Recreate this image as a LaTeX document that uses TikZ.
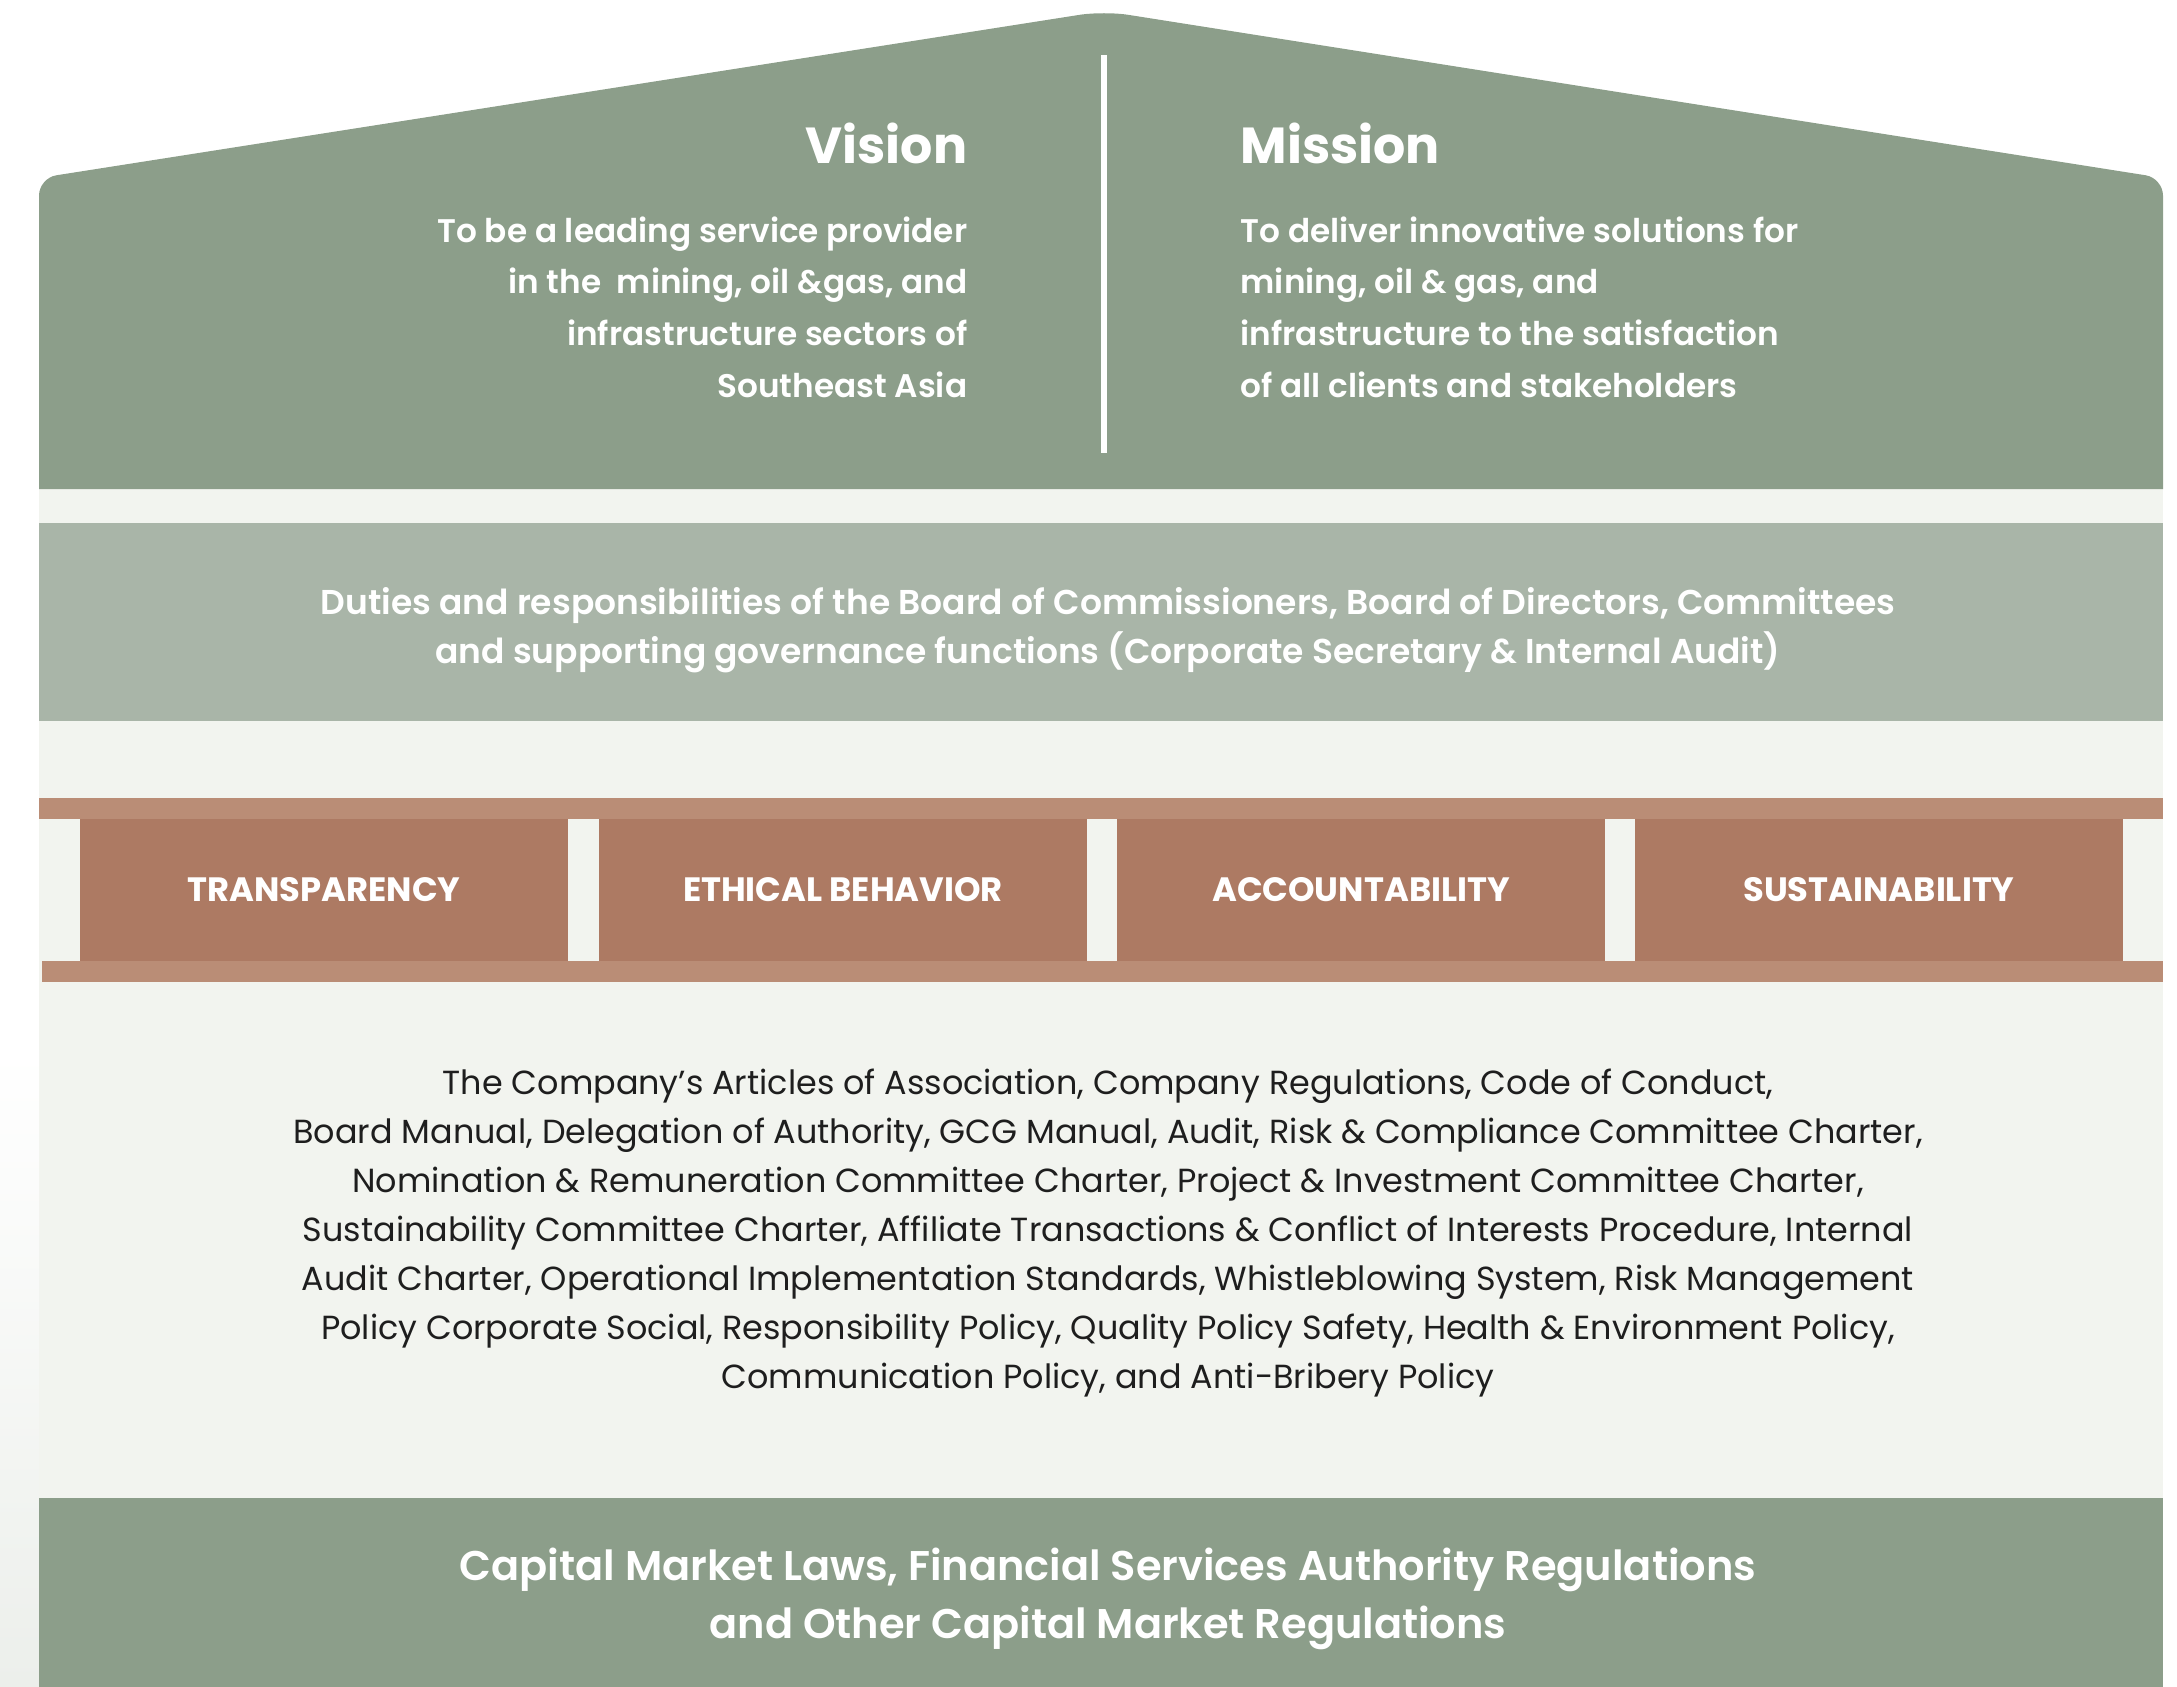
\documentclass[tikz,border=0pt]{standalone}
\usepackage{fontspec}
\setmainfont{Poppins}
\newfontfamily\semib{Poppins SemiBold}
\usetikzlibrary{positioning}
\definecolor{xRoof}{RGB}{140,158,138}
\definecolor{xDuties}{RGB}{169,181,168}
\definecolor{xBeam}{RGB}{186,141,118}
\definecolor{xPillar}{RGB}{173,122,99}
\definecolor{xFloor}{RGB}{242,244,239}
\definecolor{xShadow}{RGB}{236,239,235}
\definecolor{xText}{RGB}{30,30,30}

\tikzset{
  white text/.style={text=white, inner sep=0pt},
  pillarbox/.style={fill=xPillar, minimum width=4.87cm, minimum height=1.42cm,
    inner sep=0pt, text=white, font=\bfseries\fontsize{9.6}{11}\selectfont},
}

\begin{document}
\begin{tikzpicture}[x=0.01cm,y=-0.01cm]
    \useasboundingbox (0,0) rectangle (2177,1687);
    % light floor behind the house
    \fill[xFloor] (39,489) rectangle (2163,1687);
    \shade[top color=white, bottom color=xShadow] (0,1050) rectangle (39,1687);

    % roof with vision and mission
    \fill[xRoof] (39,489) [rounded corners=5] -- (39,178) [rounded corners=7] -- (1104,11) [rounded corners=5] -- (2163,178) [sharp corners] -- (2163,489) -- cycle;
    \fill[xRoof] (39,400) rectangle (2163,489);
    \fill[white] (1101,55) rectangle (1107,453);

    \node[white text, anchor=east, font=\bfseries\fontsize{14.4}{18}\selectfont] (vision) at (968,143) {Vision};
    \node[white text, anchor=west, font=\bfseries\fontsize{14.4}{18}\selectfont] (mission) at (1240,143) {Mission};
    \node[white text, anchor=east, align=right, font=\semib\fontsize{9.3}{14.7}\selectfont] (visiontext) at (968,307)
      {To be a leading service provider\\in the \ mining, oil \&gas, and\\infrastructure sectors of\\Southeast Asia};
    \node[white text, anchor=west, align=left, font=\semib\fontsize{9.3}{14.7}\selectfont] (missiontext) at (1240,307)
      {To deliver innovative solutions for\\mining, oil \& gas, and\\infrastructure to the satisfaction\\of all clients and stakeholders};

    % duties band
    \fill[xDuties] (39,523) rectangle (2163,721);
    \node[white text, align=center, font=\semib\fontsize{9.8}{13.8}\selectfont] (duties) at (1108,630)
      {Duties and responsibilities of the Board of Commissioners, Board of Directors, Committees\\and supporting governance functions (Corporate Secretary \& Internal Audit)};

    % beams and pillars
    \fill[xBeam] (39,798) rectangle (2163,819);
    \fill[xBeam] (42,961) rectangle (2163,982);
    \foreach \px/\lbl [count=\i] in {324/TRANSPARENCY, 843/ETHICAL BEHAVIOR, 1361/ACCOUNTABILITY, 1879/SUSTAINABILITY} {
      \node[pillarbox] (pillar\i) at (\px,890) {\lbl};
    }

    % policies
    \node[text=xText, inner sep=0pt, align=center, font=\fontsize{9.5}{13.9}\selectfont] (policies) at (1108,1233)
      {The Company’s Articles of Association, Company Regulations, Code of Conduct,\\
       Board Manual, Delegation of Authority, GCG Manual, Audit, Risk \& Compliance Committee Charter,\\
       Nomination \& Remuneration Committee Charter, Project \& Investment Committee Charter,\\
       Sustainability Committee Charter, Affiliate Transactions \& Conflict of Interests Procedure, Internal\\
       Audit Charter, Operational Implementation Standards, Whistleblowing System, Risk Management\\
       Policy Corporate Social, Responsibility Policy, Quality Policy Safety, Health \& Environment Policy,\\
       Communication Policy, and Anti-Bribery Policy};

    % foundation
    \fill[xRoof] (39,1498) rectangle (2163,1687);
    \node[white text, align=center, font=\semib\fontsize{11.8}{16.6}\selectfont] (laws) at (1108,1599)
      {Capital Market Laws, Financial Services Authority Regulations\\and Other Capital Market Regulations};
\end{tikzpicture}
\end{document}
